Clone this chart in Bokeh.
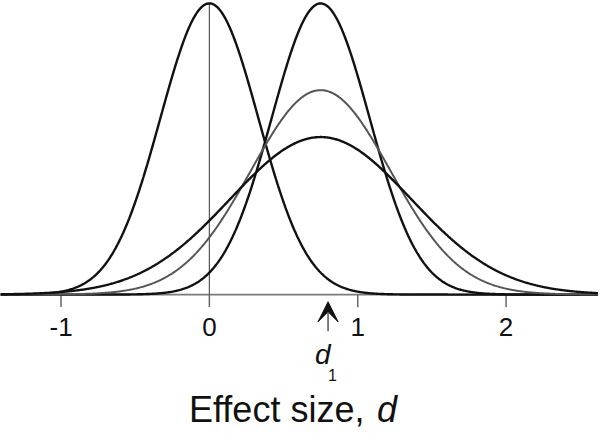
import numpy as np
from bokeh.plotting import figure
from bokeh.models import Range1d, Arrow, VeeHead
from bokeh.core.properties import value
from bokeh.embed import file_html
from bokeh.resources import INLINE

# ---- data ----
means = [0.0, 0.75, 0.75, 0.75]          # centre of each curve (effect size d)
sds = [0.33, 0.33, 0.47, 0.61]           # spread of each curve
curve_colors = ["#111111", "#111111", "#555555", "#111111"]
curve_widths = [2.4, 2.4, 2.0, 2.4]
tick_values = [-1, 0, 1, 2]
tick_labels = ["-1", "0", "1", "2"]
d1_value = 0.80                          # position of the d1 arrow
x_min, x_max = -1.408, 2.623

p = figure(width=598, height=431, output_backend="svg", toolbar_location=None,
           x_range=Range1d(x_min, x_max), y_range=Range1d(-0.5685, 1.221),
           min_border=0, outline_line_color=None)
p.xaxis.visible = False
p.yaxis.visible = False
p.grid.visible = False

xs = np.linspace(x_min, x_max, 800)

# baseline
p.segment(x0=[x_min], y0=[0], x1=[x_max], y1=[0], line_color="#7a7a7a", line_width=1.6)
# vertical line at 0 up to the peak of the centred curve
peak0 = 1.0 / (sds[0] * np.sqrt(2 * np.pi))
p.segment(x0=[0], y0=[0], x1=[0], y1=[peak0], line_color="#555555", line_width=1.2)

# ticks
p.segment(x0=tick_values, y0=[0] * 4, x1=tick_values, y1=[-0.052] * 4,
          line_color="#666666", line_width=1.5)
p.text(x=tick_values, y=[-0.135] * 4, text=tick_labels, text_align="center",
       text_baseline="middle", text_font=value("Liberation Sans"),
       text_font_size="26px", text_color="#111111")

# curves
for m, s, c, w in zip(means, sds, curve_colors, curve_widths):
    ys = np.exp(-0.5 * ((xs - m) / s) ** 2) / (s * np.sqrt(2 * np.pi))
    p.line(xs, ys, line_color=c, line_width=w)

# d1 arrow
p.add_layout(Arrow(end=VeeHead(size=20, fill_color="#111111", line_color="#111111"),
                   x_start=d1_value, y_start=-0.152, x_end=d1_value, y_end=-0.030,
                   line_color="#555555", line_width=1.5))
p.text(x=[0.765], y=[-0.248], text=["d"], text_align="center", text_baseline="middle",
       text_font=value("Liberation Sans"), text_font_style="italic",
       text_font_size="28px", text_color="#111111")
p.text(x=[0.83], y=[-0.333], text=["1"], text_align="center", text_baseline="middle",
       text_font=value("Liberation Sans"), text_font_size="16px", text_color="#111111")

# axis title
p.text(x=[1.045], y=[-0.478], text=["Effect size,"], text_align="right",
       text_baseline="middle", text_font=value("Liberation Sans"),
       text_font_size="36px", text_color="#111111")
p.text(x=[1.13], y=[-0.478], text=["d"], text_align="left",
       text_baseline="middle", text_font=value("Liberation Sans"),
       text_font_style="italic", text_font_size="36px", text_color="#111111")

open("out.html", "w").write(file_html(p, INLINE))
